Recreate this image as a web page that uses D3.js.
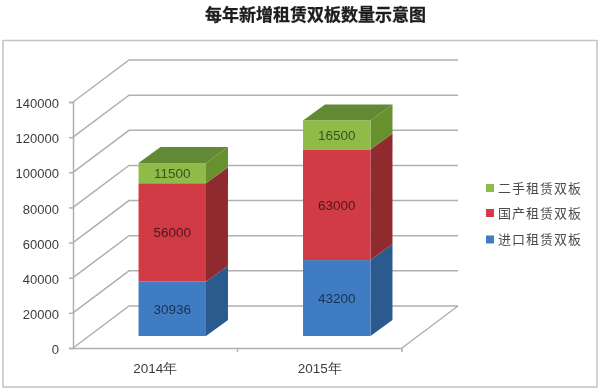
<!DOCTYPE html>
<html>
<head>
<meta charset="utf-8">
<script src="https://cdn.jsdelivr.net/npm/d3@7"></script>
<style>
    html, body { margin: 0; padding: 0; background: #fff; }
    svg { display: block; }
    .cjk { font-family: "Noto Sans CJK SC", sans-serif; }
    .num { font-family: "Liberation Sans", sans-serif; }
</style>
</head>
<body>
<svg id="chart" width="600" height="390"></svg>
<script>
const categories = ["2014年", "2015年"];
const importBoards = [30936, 43200];
const domesticBoards = [56000, 63000];
const usedBoards = [11500, 16500];
const seriesNames = ["进口租赁双板", "国产租赁双板", "二手租赁双板"];
const yTicks = [0, 20000, 40000, 60000, 80000, 100000, 120000, 140000];

const front = ["#3f7cc2", "#d03a45", "#8fbc4a"];
const side = ["#2c5a8e", "#8f2a2f", "#67902f"];
const top3d = ["#2c5a8e", "#8f2a2f", "#628a35"];
const legendY = [239.5, 213, 188];

let svg = d3.select("#chart");
svg.append("defs").append("filter").attr("id", "soft")
    .append("feGaussianBlur").attr("stdDeviation", 0.5);

let g = svg.append("g").attr("filter", "url(#soft)");

// frame of the picture
g.append("rect")
    .attr("x", 3).attr("y", 40.5)
    .attr("width", 594).attr("height", 346.5)
    .attr("fill", "#fff").attr("stroke", "#c4c4c4").attr("stroke-width", 1.5);

g.append("text").attr("class", "cjk")
    .attr("x", 315.5).attr("y", 21)
    .attr("text-anchor", "middle")
    .attr("font-size", 17).attr("font-weight", 700)
    .attr("fill", "#1c1c1c").attr("stroke", "#1c1c1c").attr("stroke-width", 0.3)
    .text("每年新增租赁双板数量示意图");

let yScale = d3.scaleLinear().domain([0, 140000]).range([348, 102]);
let xScale = d3.scaleBand().domain(categories).range([73, 402]);

// 3d offsets: back wall, and where the bars sit on the floor
let depth = { x: 56, y: -42 };
let barShift = { x: 17, y: -12 };
let barDepth = { x: 22, y: -16 };
let barWidth = xScale.bandwidth() * 0.41;

let gridColor = "#b0b0b0";

// floor and walls
g.append("path")
    .attr("d", `M${xScale.range()[1]},${yScale(0)}l${depth.x},${depth.y}`)
    .attr("stroke", gridColor).attr("stroke-width", 1.5).attr("fill", "none");

g.selectAll(".grid").data(yTicks).enter().append("path")
    .attr("class", "grid")
    .attr("d", d => `M73,${yScale(d)}l${depth.x},${depth.y}H${xScale.range()[1] + depth.x}`)
    .attr("stroke", gridColor).attr("stroke-width", 1.5).attr("fill", "none");

// axes
let yAxis = d3.axisLeft(yScale).tickValues(yTicks).tickFormat(d3.format("d")).tickSize(4).tickPadding(10);
let yG = g.append("g").attr("transform", "translate(73,0)").call(yAxis);

let xAxis = d3.axisBottom(xScale).tickSize(0).tickPadding(15);
let xG = g.append("g").attr("transform", "translate(0," + yScale(0) + ")").call(xAxis);

[yG, xG].forEach(a => {
    a.selectAll("path.domain").attr("stroke", gridColor).attr("stroke-width", 1.5);
    a.selectAll("line").attr("stroke", gridColor).attr("stroke-width", 1.5);
    a.selectAll("text").attr("class", "num").attr("font-family", null)
        .attr("font-size", 13).attr("fill", "#3c3c3c");
});
yG.selectAll("text").attr("y", 1.5);
xG.selectAll("text").attr("font-size", 13.5);

g.append("line")
    .attr("x1", xScale(categories[1])).attr("x2", xScale(categories[1]))
    .attr("y1", yScale(0)).attr("y2", yScale(0) + 4)
    .attr("stroke", gridColor).attr("stroke-width", 1.5);
g.append("line")
    .attr("x1", xScale.range()[1]).attr("x2", xScale.range()[1])
    .attr("y1", yScale(0)).attr("y2", yScale(0) + 4)
    .attr("stroke", gridColor).attr("stroke-width", 1.5);

// stacked boxes
let stack = d3.stack().keys([0, 1, 2]).value((d, k) => d[k]);
let rows = categories.map((c, i) => [importBoards[i], domesticBoards[i], usedBoards[i]]);
let layers = stack(rows);

layers.forEach((layer, s) => {
    layer.forEach((d, i) => {
        let x0 = xScale(categories[i]) + xScale.bandwidth() / 2 + barShift.x - barWidth / 2;
        let x1 = x0 + barWidth;
        let yLow = yScale(d[0]) + barShift.y;
        let yHigh = yScale(d[1]) + barShift.y;

        g.append("path")
            .attr("d", `M${x1},${yLow}l${barDepth.x},${barDepth.y}V${yHigh + barDepth.y}L${x1},${yHigh}Z`)
            .attr("fill", side[s]);

        if (s === 2) {
            g.append("path")
                .attr("d", `M${x0},${yHigh}l${barDepth.x},${barDepth.y}H${x1 + barDepth.x}L${x1},${yHigh}Z`)
                .attr("fill", top3d[s]);
        }

        g.append("rect")
            .attr("x", x0).attr("y", yHigh)
            .attr("width", barWidth).attr("height", yLow - yHigh)
            .attr("fill", front[s]);

        g.append("text").attr("class", "num")
            .attr("x", (x0 + x1) / 2).attr("y", (yLow + yHigh) / 2)
            .attr("dy", "0.36em")
            .attr("text-anchor", "middle")
            .attr("font-size", 13.5)
            .attr("fill", d3.color(side[s]).darker(1.6))
            .text(rows[i][s]);
    });
});

// legend
seriesNames.forEach((name, s) => {
    g.append("rect")
        .attr("x", 486).attr("y", legendY[s] - 4)
        .attr("width", 8).attr("height", 8)
        .attr("fill", front[s]);
    g.append("text").attr("class", "cjk")
        .attr("x", 498).attr("y", legendY[s])
        .attr("dy", "0.36em")
        .attr("font-size", 13).attr("letter-spacing", 1)
        .attr("fill", "#4c4c4c")
        .text(name);
});
</script>
</body>
</html>
